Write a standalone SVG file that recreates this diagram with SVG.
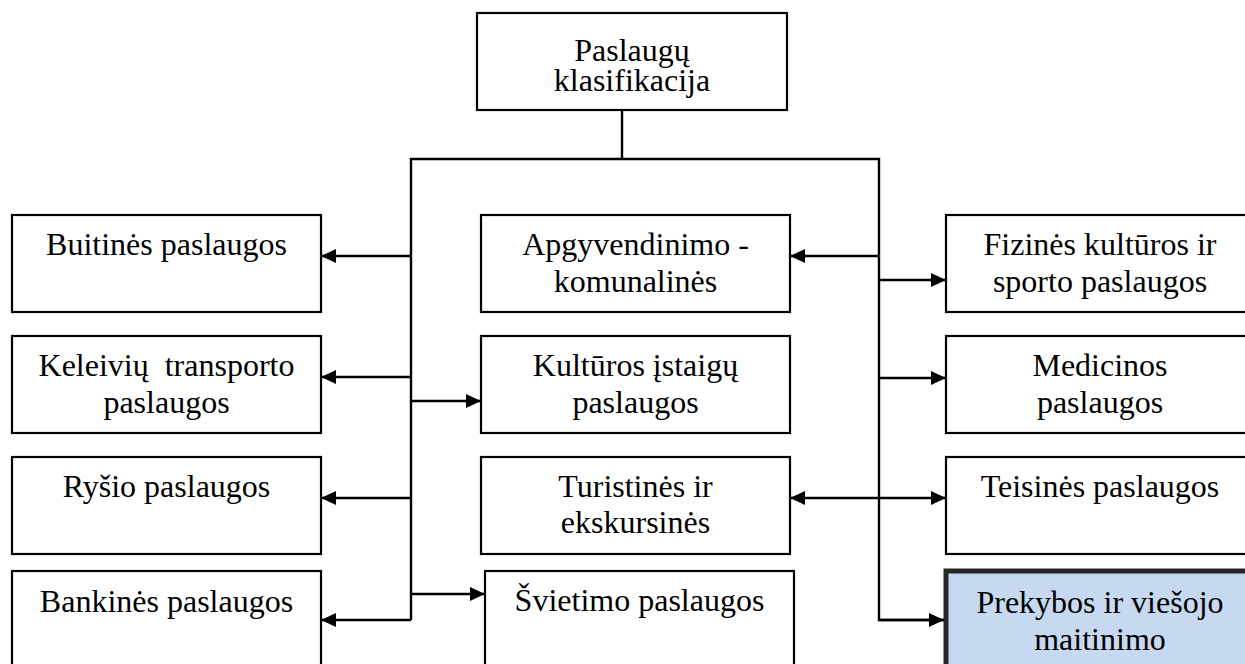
<svg xmlns="http://www.w3.org/2000/svg" width="1245" height="664" viewBox="0 0 1245 664">
  <style>
    .box { fill: #ffffff; stroke: #000000; stroke-width: 2.2; }
    .hl { fill: #C6D9F1; stroke: #262626; stroke-width: 5; }
    .lbl { font-family: 'Liberation Serif', 'Times New Roman', serif; font-size: 32px; fill: #000000; text-anchor: middle; white-space: pre; }
    .wire { fill: none; stroke: #000000; stroke-width: 2.4; }
    .arr { fill: none; stroke: #000000; stroke-width: 2.4; marker-end: url(#head); }
    .arr2 { fill: none; stroke: #000000; stroke-width: 2.4; marker-start: url(#head); marker-end: url(#head); }
  </style>
  <defs>
    <marker id="head" markerUnits="userSpaceOnUse" markerWidth="15" markerHeight="14" refX="15" refY="7" orient="auto-start-reverse">
      <path d="M0,0 L15,7 L0,14 z" fill="#000000"/>
    </marker>
  </defs>
  <rect width="1245" height="664" fill="#ffffff"/>

  <!-- connectors: trunk, two vertical buses, branch arrows -->
  <g id="connectors">
    <path class="wire" d="M622,110 V159"/>
    <path class="wire" d="M411,620 V159 H879 V620 H944"/>
    <!-- left bus -->
    <path class="arr" d="M411,256 H321"/>
    <path class="arr" d="M411,377 H321"/>
    <path class="arr" d="M411,401 H481"/>
    <path class="arr" d="M411,498 H321"/>
    <path class="arr" d="M411,594 H485"/>
    <path class="arr" d="M411,620 H321"/>
    <!-- right bus -->
    <path class="arr" d="M879,256 H790"/>
    <path class="arr" d="M879,280 H946"/>
    <path class="arr" d="M879,378 H946"/>
    <path class="arr2" d="M790,498 H946"/>
    <path class="arr" d="M879,620 H944"/>
  </g>

  <g id="root">
    <rect class="box" x="477" y="13" width="310" height="97"/>
    <text class="lbl" x="632" y="61">Paslaugų</text>
    <text class="lbl" x="632" y="91">klasifikacija</text>
  </g>

  <!-- left column -->
  <g id="buitines">
    <rect class="box" x="12" y="215" width="309" height="97"/>
    <text class="lbl" x="166.5" y="255">Buitinės paslaugos</text>
  </g>
  <g id="keleiviu">
    <rect class="box" x="12" y="336" width="309" height="97"/>
    <text class="lbl" x="166.5" y="376">Keleivių  transporto</text>
    <text class="lbl" x="166.5" y="413">paslaugos</text>
  </g>
  <g id="rysio">
    <rect class="box" x="12" y="457" width="309" height="97"/>
    <text class="lbl" x="166.5" y="497">Ryšio paslaugos</text>
  </g>
  <g id="bankines">
    <rect class="box" x="12" y="571" width="309" height="110"/>
    <text class="lbl" x="166.5" y="612">Bankinės paslaugos</text>
  </g>

  <!-- middle column -->
  <g id="apgyvendinimo">
    <rect class="box" x="481" y="215" width="309" height="97"/>
    <text class="lbl" x="635.5" y="255">Apgyvendinimo -</text>
    <text class="lbl" x="635.5" y="292">komunalinės</text>
  </g>
  <g id="kulturos">
    <rect class="box" x="481" y="336" width="309" height="97"/>
    <text class="lbl" x="635.5" y="376">Kultūros įstaigų</text>
    <text class="lbl" x="635.5" y="413">paslaugos</text>
  </g>
  <g id="turistines">
    <rect class="box" x="481" y="457" width="309" height="97"/>
    <text class="lbl" x="635.5" y="497">Turistinės ir</text>
    <text class="lbl" x="635.5" y="533">ekskursinės</text>
  </g>
  <g id="svietimo">
    <rect class="box" x="485" y="571" width="309" height="110"/>
    <text class="lbl" x="639.5" y="611">Švietimo paslaugos</text>
  </g>

  <!-- right column -->
  <g id="fizines">
    <rect class="box" x="946" y="215" width="309" height="97"/>
    <text class="lbl" x="1100" y="255">Fizinės kultūros ir</text>
    <text class="lbl" x="1100" y="292">sporto paslaugos</text>
  </g>
  <g id="medicinos">
    <rect class="box" x="946" y="336" width="309" height="97"/>
    <text class="lbl" x="1100" y="376">Medicinos</text>
    <text class="lbl" x="1100" y="413">paslaugos</text>
  </g>
  <g id="teisines">
    <rect class="box" x="946" y="457" width="309" height="97"/>
    <text class="lbl" x="1100" y="497">Teisinės paslaugos</text>
  </g>
  <g id="prekybos">
    <rect class="hl" x="946" y="571" width="309" height="110"/>
    <text class="lbl" x="1100" y="613">Prekybos ir viešojo</text>
    <text class="lbl" x="1100" y="650">maitinimo</text>
  </g>
</svg>
